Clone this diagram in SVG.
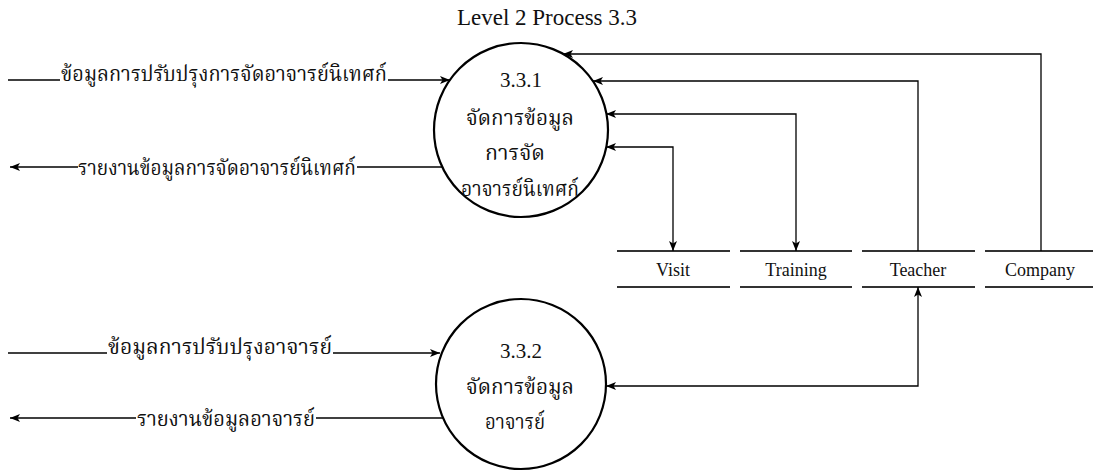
<svg xmlns="http://www.w3.org/2000/svg" width="1094" height="471" viewBox="0 0 1094 471">
<style>
.bg{fill:#ffffff}
.proc{fill:none;stroke:#000;stroke-width:2.2}
.store line{stroke:#333;stroke-width:2}
.flow{fill:none;stroke:#000;stroke-width:1.3}
.en{font-family:"Liberation Serif","Times New Roman",serif;fill:#111}
.th{font-family:"Liberation Serif","Noto Serif Thai","Noto Sans Thai","Garuda","Loma","Norasi",serif;font-size:21px;fill:#111}
.c{text-anchor:middle}
</style>
<defs>
<marker id="arr" viewBox="0 0 10 10" refX="10" refY="5" markerWidth="10" markerHeight="10" markerUnits="userSpaceOnUse" orient="auto-start-reverse">
<path d="M0,1 L10,5 L0,9 L2.5,5 z" fill="#000"/>
</marker>
</defs>
<rect class="bg" x="0" y="0" width="1094" height="471"/>
<text id="title" class="en c" x="547" y="25" font-size="23">Level 2 Process 3.3</text>

<g id="p331">
<circle class="proc" cx="521" cy="130" r="87"/>
<text class="en c" x="521" y="87" font-size="21">3.3.1</text>
<text class="th c" x="520" y="125" textLength="108" lengthAdjust="spacingAndGlyphs">จัดการข้อมูล</text>
<text class="th c" x="515" y="160" textLength="60" lengthAdjust="spacingAndGlyphs">การจัด</text>
<text class="th c" x="520" y="196" textLength="118" lengthAdjust="spacingAndGlyphs">อาจารย์นิเทศก์</text>
</g>

<g id="p332">
<circle class="proc" cx="521" cy="384" r="85"/>
<text class="en c" x="521" y="358" font-size="21">3.3.2</text>
<text class="th c" x="520" y="394" textLength="108" lengthAdjust="spacingAndGlyphs">จัดการข้อมูล</text>
<text class="th c" x="515" y="429" textLength="60" lengthAdjust="spacingAndGlyphs">อาจารย์</text>
</g>

<g id="visit" class="store">
<line x1="617" y1="251" x2="730" y2="251"/><line x1="617" y1="287" x2="730" y2="287"/>
<text class="en c" x="673" y="276" font-size="18">Visit</text>
</g>
<g id="training" class="store">
<line x1="740" y1="251" x2="852" y2="251"/><line x1="740" y1="287" x2="852" y2="287"/>
<text class="en c" x="796" y="276" font-size="18">Training</text>
</g>
<g id="teacher" class="store">
<line x1="862" y1="251" x2="975" y2="251"/><line x1="862" y1="287" x2="975" y2="287"/>
<text class="en c" x="918" y="276" font-size="18">Teacher</text>
</g>
<g id="company" class="store">
<line x1="985" y1="251" x2="1093" y2="251"/><line x1="985" y1="287" x2="1093" y2="287"/>
<text class="en c" x="1040" y="276" font-size="18">Company</text>
</g>

<g id="connectors">
<line class="flow" x1="8" y1="80" x2="60" y2="80"/>
<line class="flow" x1="388" y1="80" x2="450" y2="80" marker-end="url(#arr)"/>
<text class="th" x="61" y="81" textLength="326" lengthAdjust="spacingAndGlyphs">ข้อมูลการปรับปรุงการจัดอาจารย์นิเทศก์</text>

<line class="flow" x1="442" y1="167" x2="357" y2="167"/>
<line class="flow" x1="78" y1="167" x2="10" y2="167" marker-end="url(#arr)"/>
<text class="th" x="78" y="175" textLength="278" lengthAdjust="spacingAndGlyphs">รายงานข้อมูลการจัดอาจารย์นิเทศก์</text>

<polyline class="flow" points="1041,251 1041,54 563,54" marker-end="url(#arr)"/>
<polyline class="flow" points="918,251 918,81 593,81" marker-end="url(#arr)"/>
<polyline class="flow" points="606,114 796,114 796,251" marker-start="url(#arr)" marker-end="url(#arr)"/>
<polyline class="flow" points="606,147 673,147 673,251" marker-start="url(#arr)" marker-end="url(#arr)"/>
<polyline class="flow" points="606,386 918,386 918,287" marker-start="url(#arr)" marker-end="url(#arr)"/>

<line class="flow" x1="8" y1="353" x2="107" y2="353"/>
<line class="flow" x1="333" y1="353" x2="440" y2="353" marker-end="url(#arr)"/>
<text class="th" x="108" y="354" textLength="224" lengthAdjust="spacingAndGlyphs">ข้อมูลการปรับปรุงอาจารย์</text>

<line class="flow" x1="443" y1="418" x2="316" y2="418"/>
<line class="flow" x1="136" y1="418" x2="10" y2="418" marker-end="url(#arr)"/>
<text class="th" x="137" y="426" textLength="178" lengthAdjust="spacingAndGlyphs">รายงานข้อมูลอาจารย์</text>
</g>
</svg>
